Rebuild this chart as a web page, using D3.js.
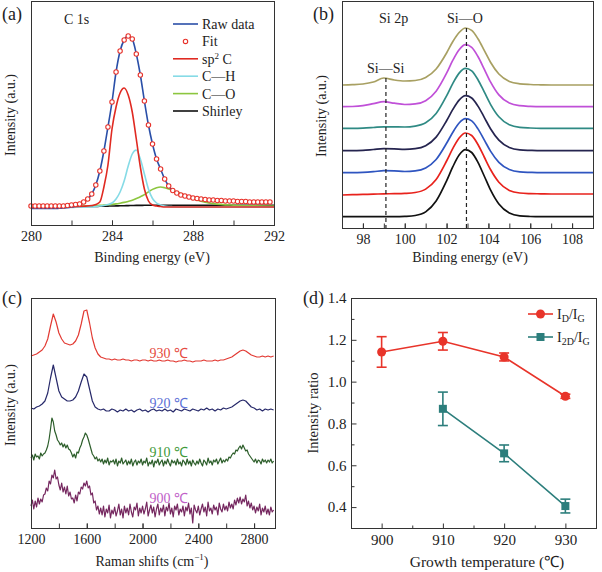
<!DOCTYPE html>
<html><head><meta charset="utf-8">
<script src="https://cdn.jsdelivr.net/npm/d3@7"></script>
<style>body{margin:0;background:#fff}</style>
</head><body><div id="chart"></div>
<script>
// ---- (a) C 1s XPS ----
var energyFit = [280,280.2,280.4,280.6,280.8,281,281.2,281.4,281.6,281.8,282,282.2,282.4,282.6,282.8,283,283.2,283.4,283.6,283.8,
  284,284.2,284.4,284.6,284.8,285,285.2,285.4,285.6,285.8,286,286.2,286.4,286.6,286.8,287,287.2,287.4,287.6,287.8,
  288,288.2,288.4,288.6,288.8,289,289.2,289.4,289.6,289.8,290,290.2,290.4,290.6,290.8,291,291.2,291.4,291.6,291.8];
var rawC1s = [-1.5,-1.5,-1.5,-1.5,-1.5,-1.5,-1.5,-1.2,-1,-0.5,0,1,2,4.5,8,13,22,36,56,80,
  105,135,156,167,171,168,153,132,106,82,63,48,38,28,21,16.5,14,12,11,10,
  9,8.5,8,7.5,7,7,6.5,6.5,6,6,6,5.5,5.5,5.5,5,5,5,5,5,5];
var fitC1s = [1,1,1,1,1,1,1,1,1,1.5,2,2.5,3,5,8,13,22,36,56,80,
  105,135,156,167,171,168,153,132,106,82,63,48,38,28,21,16.5,14,12,11,10,
  9,8.5,8,7.5,7,7,6.5,6.5,6,6,6,5.5,5.5,5.5,5,5,5,5,5,5];
var energyComp = [280,281,282,282.6,283,283.2,283.4,283.6,283.8,284,284.2,284.4,284.6,284.8,285,285.2,285.4,285.6,285.8,286,
  286.2,286.4,286.6,286.8,287,287.4,287.8,288.2,288.6,289,290,291,292];
var sp2C = [0,0,0.3,0.8,1.5,2.5,5,20,42,78,100,114,119,112,95,68,40,18,6,2,1,0.5,0,0,0,0,0,0,0,0,0,0,0];
var cH = [-1,-1,-0.5,0,0,0.5,1,1.5,2.5,4,8,15,26,41,53,57,48,33,18,8.5,4,2,1,0.5,0.3,0,0,0,0,0,0,0,0];
var cO = [0,0.3,0.6,1,1.2,1.4,1.6,1.9,2.2,2.6,3.1,3.8,4.6,5.6,6.8,8.5,10.3,12.4,15.2,17.6,19.3,20,19.3,18,16.3,13.5,10,7,4.8,3.4,1.8,1.2,1];
var shirley = [0.5,0.5,0.5,0.5,0.5,0.6,0.7,0.8,0.9,1,1.1,1.2,1.3,1.4,1.5,1.6,1.6,1.7,1.7,1.8,1.8,1.8,1.8,1.8,1.8,1.8,1.8,1.8,1.8,1.8,1.8,1.8,1.8];
var legendA = ['Raw data', 'Fit', 'sp2 C', 'C\u2014H', 'C\u2014O', 'Shirley'];

// ---- (b) Si 2p XPS, stacked ----
var energyB = [97,97.5,98,98.5,99,99.5,100,100.5,101,101.5,102,102.3,102.6,102.9,103.2,103.5,103.8,104.1,104.5,105,105.5,106,106.5,107,108,109];
var si2p = [
  [0,0,0,0,0,0,0.3,1.2,4.8,15.6,35.8,50,61.6,67,64.2,54.3,40.7,26.8,12.7,3.7,0.8,0.2,0,0,0,0],
  [-1,-0.7,-0.4,-0.2,0.2,0.3,0.6,1.5,4.9,14.5,33,45.6,56,61,58.5,49.5,37,24.5,11.8,3.6,1,0.4,0.2,0,0,0],
  [0,0,0.3,1,2,1.8,1.2,1.8,4.8,13.2,29.4,40.5,49.7,54,51.8,43.8,32.8,21.6,10.4,3.2,0.8,0.3,0,0,0,0],
  [0,0,0.4,1.2,2,1.8,1.4,2,5,13.6,30,41.3,50.6,55,52.7,44.6,33.4,22,10.6,3.2,0.8,0.3,0,0,0,0],
  [0,0,0.2,0.8,1.5,1.4,1.3,2.2,5.5,14.8,32.5,45,55.2,60,57.5,48.6,36.4,24,11.5,3.5,0.9,0.3,0,0,0,0],
  [0,0.2,1,3,5,3.5,2.2,2.8,6,15.5,33.5,46.5,57,62,59.4,50.2,37.6,24.8,11.8,3.6,1,0.3,0,0,0,0],
  [0,0.3,1,3,7,5,4,4.5,7.5,16,32,43.5,52.5,57,54.6,46.2,34.6,22.8,11,3.6,1.2,0.5,0.2,0,0,0]
];
var offsetB = [11.3, 34, 55.3, 77.3, 99.7, 121.3, 143];
var colorB = ['#111111', '#e8221c', '#2f55c0', '#25244f', '#2f8a84', '#c050d8', '#a8a062'];
var peakLines = [99.1, 102.95];

// ---- (c) Raman ----
var ramanShift = d3.range(1200, 2941, 20);
var ramanShiftFine = d3.range(1200, 2941, 10);
var raman930 = [172,173,174,176,178,182,189,202,
  214,206,195,189,185,184,183,184,187,193,204,217,218,205,190,180,174,171,170,169,
  169,168,169,168,168,169,168,168,167,168,168,167,168,168,167,168,167,167,168,167,
  167,168,167,167,166,167,167,168,167,167,166,167,167,167,168,167,167,167,168,167,168,168,
  169,170,171,173,175,177,178,177,175,173,172,171,171,172,171,172,171,172];
var raman920 = [120,119,121,122,124,127,135,150,
  163,150,137,131,129,127,127,128,131,137,146,154,151,139,127,121,119,118,119,117,
  117,119,118,116,118,117,119,117,118,116,118,119,117,118,116,118,119,117,118,117,
  119,117,118,116,119,118,117,119,118,117,119,118,117,119,118,120,118,119,117,119,118,120,
  119,120,121,123,125,127,128,127,124,121,120,118,119,117,119,118,119,118];
var raman910 = [70,73,68,74,71,72,69,75,72,74,
  75,78,82,89,99,110,106,97,93,88,
  86,83,85,81,84,80,83,79,78,75,
  71,74,70,76,75,80,83,88,91,95,
  93,89,84,79,74,72,69,71,67,69,
  66,69,64,68,65,70,63,67,66,68,
  64,69,62,67,65,70,64,66,68,63,
  67,64,69,62,66,68,63,67,65,69,
  63,67,65,70,62,66,64,68,61,67,
  65,69,63,66,68,62,67,64,69,65,
  62,68,65,67,63,69,64,66,62,68,
  66,63,69,64,67,62,68,65,63,67,
  64,69,65,62,68,66,63,70,65,67,
  63,68,66,69,64,67,70,65,68,66,
  69,67,71,70,73,75,74,78,77,80,
  82,79,83,80,77,78,74,72,70,68,
  66,69,65,68,67,64,69,66,68,65,
  68,66,69,65,67];
var raman900 = [22,28,19,27,21,30,24,29,26,33,
  34,40,37,47,44,53,50,58,49,51,
  43,38,45,36,41,34,42,32,36,29,
  30,25,33,27,36,34,41,39,45,42,
  47,40,42,33,35,25,27,18,22,14,
  20,13,22,11,19,15,23,10,18,14,
  21,12,17,24,13,19,10,22,15,20,
  13,24,16,11,21,18,25,12,20,15,
  22,14,19,26,12,18,23,15,21,11,
  19,24,13,20,16,23,12,21,17,25,
  14,20,11,22,18,24,13,19,16,22,
  12,21,17,25,14,20,5,23,18,15,
  22,13,19,24,16,21,12,26,17,20,
  14,23,18,21,13,25,19,16,24,18,
  22,17,26,20,24,19,28,23,30,25,
  31,24,29,26,33,22,27,20,25,18,
  22,15,21,17,24,13,20,16,22,14,
  19,13,21,16,18];
var ramanSeries = [raman930, raman920, raman910, raman900];
var ramanLabels = ['930 \u2103', '920 \u2103', '910 \u2103', '900 \u2103'];
var ramanColor = ['#e23a33', '#27296a', '#2d5e2b', '#75275f'];
var ramanLabelColor = ['#e54a40', '#5b6fd6', '#3f9a3a', '#c060c8'];
var ramanLabelLevel = [175, 125, 76, 30];

// ---- (d) intensity ratios ----
var temps = [900, 910, 920, 930];
var ratioD = [1.142, 1.193, 1.118, 0.930];
var errD = [0.073, 0.042, 0.019, 0.010];
var temps2D = [910, 920, 930];
var ratio2D = [0.870, 0.657, 0.405];
var err2D = [0.080, 0.040, 0.033];

var font = '"Liberation Serif","Times New Roman",serif';
var svg = d3.select('#chart').append('svg').attr('width', 602).attr('height', 572)
  .style('font-family', font);

function box(x0, x1, y0, y1) {
  svg.append('rect').attr('x', x0 + 0.5).attr('y', y0 + 0.5)
    .attr('width', x1 - x0).attr('height', y1 - y0)
    .attr('fill', 'none').attr('stroke', '#333').attr('stroke-width', 1);
}
function ticksBottom(scale, y, vals, len, labels, fmt, size) {
  var ax = d3.axisBottom(scale).tickValues(vals).tickSize(-len).tickPadding(6)
    .tickFormat(labels ? fmt : '');
  var g = svg.append('g').attr('transform', 'translate(0,' + (y + 0.5) + ')').call(ax);
  g.select('.domain').remove();
  g.selectAll('line').attr('stroke', '#333');
  g.selectAll('text').attr('font-family', font).attr('font-size', size || 14).attr('fill', '#222');
}
function ticksLeft(scale, x, vals, len, labels, fmt, size) {
  var ax = d3.axisLeft(scale).tickValues(vals).tickSize(-len).tickPadding(5)
    .tickFormat(labels ? fmt : '');
  var g = svg.append('g').attr('transform', 'translate(' + (x + 0.5) + ',0)').call(ax);
  g.select('.domain').remove();
  g.selectAll('line').attr('stroke', '#333');
  g.selectAll('text').attr('font-family', font).attr('font-size', size || 14).attr('fill', '#222');
}
function label(x, y, txt, size, rot) {
  var t = svg.append('text').attr('x', x).attr('y', y).attr('font-size', size || 14)
    .attr('fill', '#222').attr('text-anchor', 'middle').text(txt);
  if (rot) t.attr('transform', 'rotate(-90,' + x + ',' + y + ')');
  return t;
}
function panelTag(x, y, txt) {
  svg.append('text').attr('x', x).attr('y', y).attr('font-size', 18).attr('fill', '#222').text(txt);
}

// ===== panel (a) =====
var xa = d3.scaleLinear().domain([280, 292]).range([31, 274]);
var ya = d3.scaleLinear().domain([-18, 205]).range([225, 2]);
var lineA = d3.line().curve(d3.curveMonotoneX);
var comps = [[shirley, '#111'], [cO, '#8cc63f'], [cH, '#86dbe6'], [sp2C, '#e02a22']];
comps.forEach(function (c) {
  svg.append('path').attr('fill', 'none').attr('stroke', c[1]).attr('stroke-width', 1.6)
    .attr('d', lineA(energyComp.map(function (e, i) { return [xa(e), ya(c[0][i])]; })));
});
svg.append('path').attr('fill', 'none').attr('stroke', '#2a4fa8').attr('stroke-width', 1.6)
  .attr('d', lineA(energyFit.map(function (e, i) { return [xa(e), ya(rawC1s[i])]; })));
svg.selectAll('circle.fit').data(energyFit).enter().append('circle').attr('class', 'fit')
  .attr('cx', function (d) { return xa(d); })
  .attr('cy', function (d, i) { return ya(fitC1s[i]); })
  .attr('r', 2.2).attr('fill', '#fff').attr('stroke', '#e8322a').attr('stroke-width', 1.1);
box(31, 274, 1, 225);
ticksBottom(xa, 225, [280, 282, 284, 286, 288, 290, 292], 5, false);
ticksBottom(xa, 225, [280, 284, 288, 292], 5, true, d3.format('d'));
svg.append('text').attr('x', 64).attr('y', 24).attr('font-size', 14).attr('fill', '#222').text('C 1s');
var legColA = ['#2a4fa8', '#e8322a', '#e02a22', '#86dbe6', '#8cc63f', '#111'];
legendA.forEach(function (name, i) {
  var y = 24 + i * 17.4;
  if (i === 1) {
    svg.append('circle').attr('cx', 185.5).attr('cy', y).attr('r', 2.2)
      .attr('fill', '#fff').attr('stroke', legColA[i]).attr('stroke-width', 1.1);
  } else {
    svg.append('line').attr('x1', 173).attr('x2', 198).attr('y1', y).attr('y2', y)
      .attr('stroke', legColA[i]).attr('stroke-width', 1.6);
  }
  var t = svg.append('text').attr('x', 202).attr('y', y + 5).attr('font-size', 14).attr('fill', '#222');
  if (name === 'sp2 C') {
    t.append('tspan').text('sp');
    t.append('tspan').attr('font-size', 9).attr('dy', -5).text('2');
    t.append('tspan').attr('dy', 5).text(' C');
  } else t.text(name);
});
panelTag(2, 20, '(a)');
label(152, 262, 'Binding energy (eV)');
label(15, 115, 'Intensity (a.u.)', 14, true);

// ===== panel (b) =====
var xb = d3.scaleLinear().domain([97, 109]).range([342, 593]);
var yb = d3.scaleLinear().domain([0, 226]).range([228, 2]);
si2p.forEach(function (s, k) {
  svg.append('path').attr('fill', 'none').attr('stroke', colorB[k]).attr('stroke-width', 1.7)
    .attr('d', lineA(energyB.map(function (e, i) { return [xb(e), yb(offsetB[k] + s[i])]; })));
});
var olive = si2p[si2p.length - 1];
peakLines.forEach(function (p) {
  var i = d3.minIndex(energyB, function (e) { return Math.abs(e - p); });
  svg.append('line').attr('x1', xb(p)).attr('x2', xb(p))
    .attr('y1', yb(offsetB[offsetB.length - 1] + olive[i])).attr('y2', 228)
    .attr('stroke', '#222').attr('stroke-width', 1.2).attr('stroke-dasharray', '4,3');
});
box(342, 593, 1, 228);
ticksBottom(xb, 228, d3.range(97, 110, 1), 5, false);
ticksBottom(xb, 228, [98, 100, 102, 104, 106, 108], 5, true, d3.format('d'));
svg.append('text').attr('x', 379).attr('y', 23).attr('font-size', 14).attr('fill', '#222').text('Si 2p');
svg.append('text').attr('x', 447).attr('y', 23).attr('font-size', 14).attr('fill', '#222').text('Si\u2014O');
svg.append('text').attr('x', 367).attr('y', 73).attr('font-size', 14).attr('fill', '#222').text('Si\u2014Si');
panelTag(313, 20, '(b)');
label(470, 262, 'Binding energy (eV)');
label(326, 116, 'Intensity (a.u.)', 14, true);

// ===== panel (c) =====
var xc = d3.scaleLinear().domain([1200, 2950]).range([31, 275]);
var yc = d3.scaleLinear().domain([0, 230]).range([528, 298]);
var lineC = d3.line();
ramanSeries.forEach(function (s, k) {
  var grid = s.length > ramanShift.length ? ramanShiftFine : ramanShift;
  svg.append('path').attr('fill', 'none').attr('stroke', ramanColor[k]).attr('stroke-width', 1.2)
    .attr('stroke-linejoin', 'round')
    .attr('d', lineC(grid.map(function (r, i) { return [xc(r), yc(s[i])]; })));
  svg.append('text').attr('x', xc(2050)).attr('y', yc(ramanLabelLevel[k]) + 5)
    .attr('font-size', 14).attr('fill', ramanLabelColor[k]).text(ramanLabels[k]);
});
box(31, 275, 298, 528);
ticksBottom(xc, 528, d3.range(1200, 2950, 200), 5, false);
ticksBottom(xc, 528, [1200, 1600, 2000, 2400, 2800], 5, true, d3.format('d'));
panelTag(2, 304, '(c)');
var tc = label(152, 566, 'Raman shifts (cm');
tc.append('tspan').attr('font-size', 9).attr('dy', -6).text('\u22121');
tc.append('tspan').attr('dy', 6).text(')');
label(15, 405, 'Intensity (a.u.)', 14, true);

// ===== panel (d) =====
var xd = d3.scaleLinear().domain([895, 935]).range([351, 596]);
var yd = d3.scaleLinear().domain([0.3, 1.4]).range([528, 298]);
var red = '#e8342a', teal = '#2c7e7c';
function series(xs, ys, es, col, shape) {
  svg.append('path').attr('fill', 'none').attr('stroke', col).attr('stroke-width', 1.6)
    .attr('d', d3.line()(xs.map(function (t, i) { return [xd(t), yd(ys[i])]; })));
  xs.forEach(function (t, i) {
    var cx = xd(t), hi = yd(ys[i] + es[i]), lo = yd(ys[i] - es[i]);
    svg.append('line').attr('x1', cx).attr('x2', cx).attr('y1', hi).attr('y2', lo)
      .attr('stroke', col).attr('stroke-width', 1.6);
    [hi, lo].forEach(function (yy) {
      svg.append('line').attr('x1', cx - 5).attr('x2', cx + 5).attr('y1', yy).attr('y2', yy)
        .attr('stroke', col).attr('stroke-width', 1.6);
    });
    marker(cx, yd(ys[i]), col, shape);
  });
}
function marker(cx, cy, col, shape) {
  if (shape === 'circle') svg.append('circle').attr('cx', cx).attr('cy', cy).attr('r', 4.5).attr('fill', col);
  else svg.append('rect').attr('x', cx - 4).attr('y', cy - 4).attr('width', 8).attr('height', 8).attr('fill', col);
}
series(temps, ratioD, errD, red, 'circle');
series(temps2D, ratio2D, err2D, teal, 'square');
box(351, 596, 298, 528);
ticksBottom(xd, 528, [905, 915, 925], 3, false);
ticksBottom(xd, 528, temps, 5, true, d3.format('d'), 15);
ticksLeft(yd, 351, [0.5, 0.7, 0.9, 1.1, 1.3], 3, false);
ticksLeft(yd, 351, [0.4, 0.6, 0.8, 1.0, 1.2, 1.4], 5, true, d3.format('.1f'), 15);
[[314, red, 'circle', 'D'], [337, teal, 'square', '2D']].forEach(function (l) {
  svg.append('line').attr('x1', 528).attr('x2', 553).attr('y1', l[0]).attr('y2', l[0])
    .attr('stroke', l[1]).attr('stroke-width', 1.6);
  marker(540.5, l[0], l[1], l[2]);
  var t = svg.append('text').attr('x', 557).attr('y', l[0] + 5).attr('font-size', 14).attr('fill', '#222');
  t.append('tspan').text('I');
  t.append('tspan').attr('font-size', 10).attr('dy', 3).text(l[3]);
  t.append('tspan').attr('dy', -3).text('/I');
  t.append('tspan').attr('font-size', 10).attr('dy', 3).text('G');
});
panelTag(303, 304, '(d)');
label(487, 567, 'Growth temperature (\u2103)', 15.5);
label(318, 413, 'Intensity ratio', 14.5, true);
</script>
</body></html>
